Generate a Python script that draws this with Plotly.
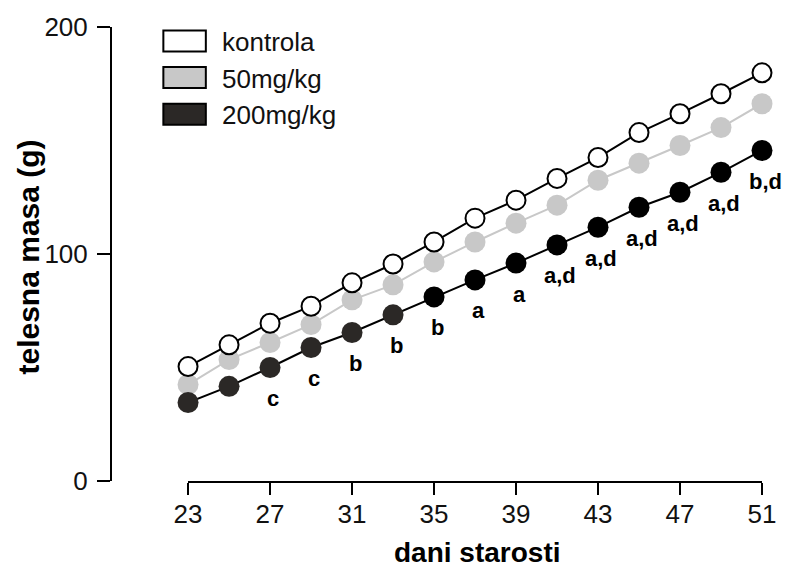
import plotly.graph_objects as go

days = [23, 25, 27, 29, 31, 33, 35, 37, 39, 41, 43, 45, 47, 49, 51]
kontrola = [50.4, 60, 69.5, 77, 87.3, 95.6, 105.3, 115.8, 123.7, 133.3, 142.5, 153.5, 161.8, 170.6, 179.8]
mg50 = [42.5, 53.5, 61, 68.9, 79.8, 86.4, 96.5, 105.3, 113.6, 121.5, 132.5, 140, 147.8, 155.7, 166.2]
mg200 = [34.6, 41.7, 50, 58.8, 65.4, 73.2, 81.1, 88.6, 96, 104, 111.8, 120.6, 127.2, 136, 145.6]
sig_labels = ["", "", "c", "c", "b", "b", "b", "a", "a", "a,d", "a,d", "a,d", "a,d", "a,d", "b,d"]
series_names = ["kontrola", "50mg/kg", "200mg/kg"]
x_ticks = [23, 27, 31, 35, 39, 43, 47, 51]
y_ticks = [0, 100, 200]
x_title = "dani starosti"
y_title = "telesna masa (g)"

FONT = "Liberation Sans, Arial, sans-serif"
dark = "#2b2826"
mg200_colors = [dark if d < 35 else "#000000" for d in days]

W, H = 788, 568
ml, mr, mt, mb = 111, 18, 26, 87
pw, ph = W - ml - mr, H - mt - mb


def px2paper(x, y):
    return (x - ml) / pw, (H - mb - y) / ph


fig = go.Figure()
fig.add_trace(go.Scatter(
    x=days, y=mg50, mode="lines+markers", cliponaxis=False,
    line=dict(color="#c8c8c8", width=2),
    marker=dict(size=21, color="#c8c8c8", line=dict(width=0)),
    showlegend=False))
fig.add_trace(go.Scatter(
    x=days, y=kontrola, mode="lines+markers", cliponaxis=False,
    line=dict(color="#000000", width=2),
    marker=dict(size=19, color="#ffffff", line=dict(width=2, color="#000000")),
    showlegend=False))
fig.add_trace(go.Scatter(
    x=days, y=mg200, mode="lines+markers", cliponaxis=False,
    line=dict(color="#000000", width=2),
    marker=dict(size=21, color=mg200_colors, line=dict(width=0)),
    showlegend=False))

annotations = []
for d, v, t in zip(days, mg200, sig_labels):
    if t:
        annotations.append(dict(x=d, y=v, xref="x", yref="y", text="<b>" + t + "</b>",
                                showarrow=False, xshift=3, yshift=-31,
                                font=dict(family=FONT, size=22, color="#000000")))

# legend (rectangular swatches)
legend_fill = ["#ffffff", "#c8c8c8", dark]
shapes = []
for i, (name, fill) in enumerate(zip(series_names, legend_fill)):
    cy = 40 + i * 36.7
    x0, y0 = px2paper(164, cy - 10.5)
    x1, y1 = px2paper(207, cy + 10.5)
    shapes.append(dict(type="rect", xref="paper", yref="paper", x0=x0, x1=x1, y0=y0, y1=y1,
                       fillcolor=fill, line=dict(color="#000000", width=2)))
    tx, ty = px2paper(221, cy + 1)
    annotations.append(dict(x=tx, y=ty, xref="paper", yref="paper", text=name, showarrow=False,
                            xanchor="left", yanchor="middle",
                            font=dict(family=FONT, size=26, color="#111111")))

# axis titles
tx, ty = px2paper(481, 553)
annotations.append(dict(x=tx, y=ty, xref="paper", yref="paper", text="<b>" + x_title + "</b>",
                        showarrow=False, xanchor="center", yanchor="middle",
                        font=dict(family=FONT, size=28, color="#000000")))
tx, ty = px2paper(27, 257)
annotations.append(dict(x=tx, y=ty, xref="paper", yref="paper", text="<b>" + y_title + "</b>",
                        showarrow=False, xanchor="center", yanchor="middle", textangle=-90,
                        font=dict(family=FONT, size=30, color="#000000")))

fig.update_layout(
    width=W, height=H,
    margin=dict(l=ml, r=mr, t=mt, b=mb),
    plot_bgcolor="white", paper_bgcolor="white",
    font=dict(family=FONT, size=26, color="#111111"),
    showlegend=False,
    shapes=shapes,
    annotations=annotations,
    xaxis=dict(
        domain=[(189 - ml) / pw, 1], range=[23, 51],
        tickvals=x_ticks, ticktext=[str(t) for t in x_ticks],
        showline=True, linecolor="#000000", linewidth=2,
        ticks="outside", ticklen=12, tickwidth=2, tickcolor="#000000",
        ticklabelstandoff=-3,
        showgrid=False, zeroline=False,
        tickfont=dict(family=FONT, size=26, color="#111111"),
    ),
    yaxis=dict(
        anchor="free", position=0, range=[0, 200],
        tickvals=y_ticks, ticktext=[str(t) for t in y_ticks],
        showline=True, linecolor="#000000", linewidth=2,
        ticks="outside", ticklen=13, tickwidth=2, tickcolor="#000000",
        ticklabelstandoff=4,
        showgrid=False, zeroline=False,
        tickfont=dict(family=FONT, size=26, color="#111111"),
    ),
)

fig.write_html("out.html", config={"displayModeBar": False},
               post_script="document.body.style.margin='0px';")
